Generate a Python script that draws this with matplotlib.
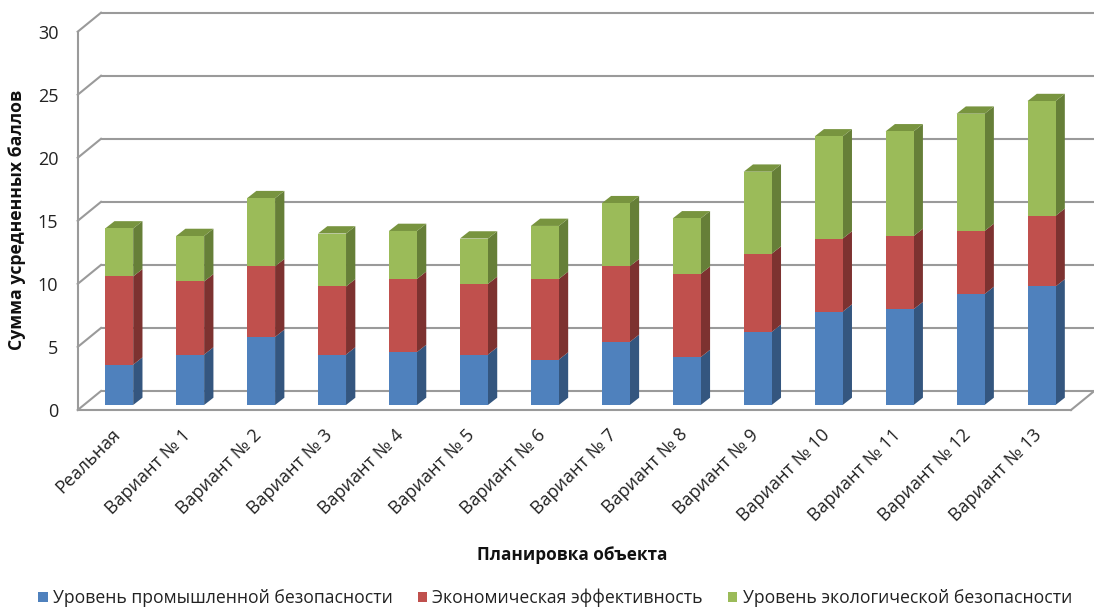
import matplotlib
matplotlib.use('Agg')
import matplotlib.pyplot as plt
from matplotlib.patches import Polygon, Patch
import matplotlib.transforms as mtransforms

# ---------------- data ----------------
categories = ['Реальная', 'Вариант № 1', 'Вариант № 2', 'Вариант № 3', 'Вариант № 4',
              'Вариант № 5', 'Вариант № 6', 'Вариант № 7', 'Вариант № 8', 'Вариант № 9',
              'Вариант № 10', 'Вариант № 11', 'Вариант № 12', 'Вариант № 13']
industrial = [3.2, 4.0, 5.4, 4.0, 4.2, 4.0, 3.6, 5.0, 3.8, 5.8, 7.4, 7.6, 8.8, 9.4]
economic = [7.0, 5.8, 5.6, 5.4, 5.8, 5.6, 6.4, 6.0, 6.6, 6.2, 5.8, 5.8, 5.0, 5.6]
ecological = [3.8, 3.6, 5.4, 4.2, 3.8, 3.6, 4.2, 5.0, 4.4, 6.5, 8.1, 8.3, 9.3, 9.1]
series_names = ['Уровень промышленной безопасности', 'Экономическая эффективность',
                'Уровень экологической безопасности']
y_ticks = [0, 5, 10, 15, 20, 25, 30]
y_label = 'Сумма усредненных баллов'
x_label = 'Планировка объекта'

# ---------------- style ----------------
front_colors = ['#4F81BD', '#C0504D', '#9BBB59']
side_colors = ['#34567F', '#7D3230', '#667F38']
top_colors = ['#4A74A8', '#A94644', '#78943F']
grid_color = '#9A9A9A'
FONT = ['Open Sans', 'DejaVu Sans']
plt.rcParams['font.family'] = FONT

W, H = 1094, 609
fig = plt.figure(figsize=(W / 100, H / 100), dpi=100)
ax_left, ax_right, ax_bottom, ax_top = 77.7, 1071.0, 410.0, 31.7
ax = fig.add_axes([ax_left / W, (H - ax_bottom) / H, (ax_right - ax_left) / W,
                   (ax_bottom - ax_top) / H])
n = len(categories)
ax.set_xlim(-0.5, n - 0.5)
ax.set_ylim(y_ticks[0], y_ticks[-1])
for sp in ax.spines.values():
    sp.set_visible(False)

# pixel -> data conversion from the axes scales
pxx = (ax_right - ax_left) / (n)                 # pixels per x unit
pxy = (ax_bottom - ax_top) / (y_ticks[-1] - y_ticks[0])   # pixels per y unit
wall_dx, wall_dy = 23.3 / pxx, 19.0 / pxy        # depth of the floor / wall
bar_ox, bar_oy = 6.0 / pxx, 5.0 / pxy            # bar front-face depth offset
bar_dx, bar_dy = 9.3 / pxx, 7.3 / pxy            # bar depth
bar_w = 28.0 / pxx

x0, x1 = -0.5, n - 0.5
glw = 1.5
# back wall gridlines + left side wall diagonals
for v in y_ticks:
    ax.plot([x0 + wall_dx, x1 + wall_dx], [v + wall_dy, v + wall_dy], color=grid_color,
            lw=glw, clip_on=False, zorder=1, solid_capstyle='butt')
    ax.plot([x0, x0 + wall_dx], [v, v + wall_dy], color=grid_color, lw=glw,
            clip_on=False, zorder=1)
# front axis line, floor front edge and floor right edge
ax.plot([x0, x0], [y_ticks[0], y_ticks[-1]], color=grid_color, lw=glw, clip_on=False, zorder=1)
ax.plot([x0, x1], [0, 0], color=grid_color, lw=glw, clip_on=False, zorder=1)
ax.plot([x1, x1 + wall_dx], [0, wall_dy], color=grid_color, lw=glw, clip_on=False, zorder=1)

# ---------------- bars ----------------
series = [industrial, economic, ecological]
xs = [i + bar_ox for i in range(n)]
bottoms = [0.0] * n
for s, vals in enumerate(series):
    ax.bar(xs, vals, width=bar_w, bottom=[b + bar_oy for b in bottoms],
           color=front_colors[s], edgecolor='none', zorder=3, clip_on=False)
    for i in range(n):
        yb = bottoms[i] + bar_oy
        yt = yb + vals[i]
        xr = xs[i] + bar_w / 2
        side = Polygon([(xr, yb), (xr + bar_dx, yb + bar_dy), (xr + bar_dx, yt + bar_dy),
                        (xr, yt)], closed=True, facecolor=side_colors[s],
                       edgecolor='none', zorder=2.5, clip_on=False)
        ax.add_patch(side)
        if s == len(series) - 1:
            xl = xs[i] - bar_w / 2
            top = Polygon([(xl, yt), (xl + bar_dx, yt + bar_dy), (xr + bar_dx, yt + bar_dy),
                           (xr, yt)], closed=True, facecolor=top_colors[s],
                          edgecolor='none', zorder=2.5, clip_on=False)
            ax.add_patch(top)
    bottoms = [b + v for b, v in zip(bottoms, vals)]

# ---------------- axes text ----------------
ax.set_yticks(y_ticks)
ax.set_yticklabels([str(t) for t in y_ticks], fontsize=13, color='#222222')
ax.tick_params(axis='y', length=0, pad=14)
ax.set_xticks([])

lab_off = mtransforms.ScaledTranslation(4 / 100, -22 / 100, fig.dpi_scale_trans)
for i, c in enumerate(categories):
    ax.text(i, 0, c, transform=ax.transData + lab_off, rotation=45,
            rotation_mode='anchor', ha='right', va='center', fontsize=13, color='#222222')

fig.text(17 / W, 1 - 220 / H, y_label, rotation=90, ha='center', va='center',
         fontsize=12.7, fontweight='bold', color='#111111')
fig.text(572 / W, 1 - 555 / H, x_label, ha='center', va='center',
         fontsize=12.3, fontweight='bold', color='#111111')

handles = [Patch(facecolor=front_colors[s], edgecolor='none', label=series_names[s])
           for s in range(3)]
fs = 12.7
fig.legend(handles=handles, loc='center', bbox_to_anchor=(555 / W, 1 - 598 / H),
           ncol=3, frameon=False, fontsize=fs, handlelength=0.55, handleheight=0.55,
           handletextpad=0.3, columnspacing=1.4, borderpad=0, labelcolor='#222222')

fig.savefig('out.png', dpi=100)
